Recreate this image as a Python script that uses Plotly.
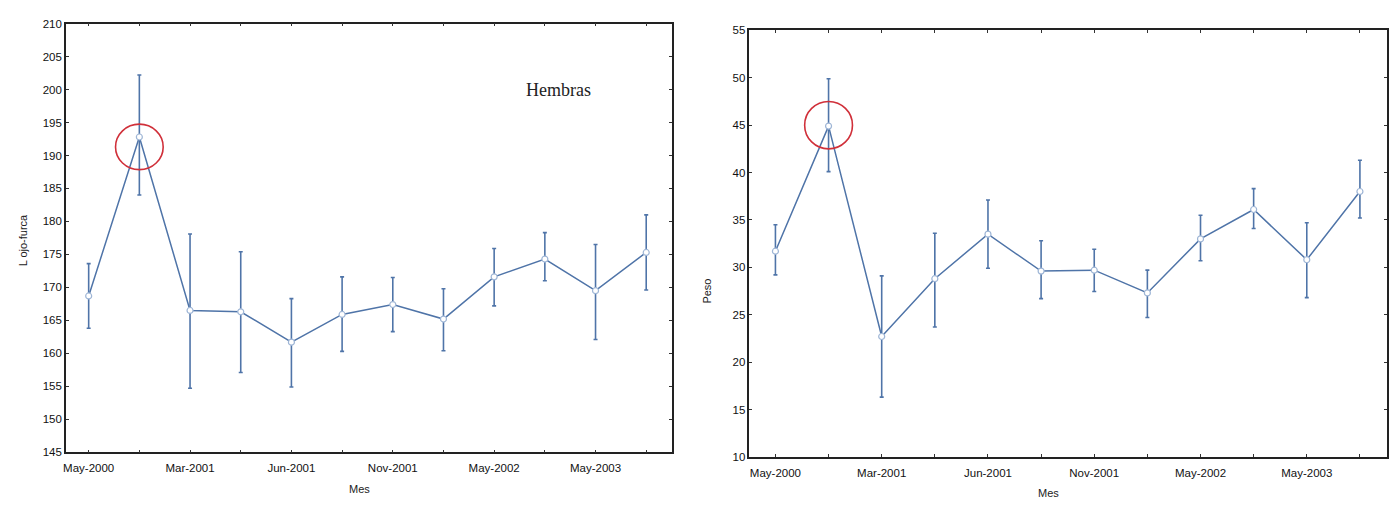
import plotly.graph_objects as go

# ---- data ----
categories = list(range(12))
tick_labels = ["May-2000", "", "Mar-2001", "", "Jun-2001", "", "Nov-2001", "",
               "May-2002", "", "May-2003", ""]

lf_mean = [168.7, 192.8, 166.5, 166.3, 161.7, 165.9, 167.4, 165.2, 171.6, 174.3, 169.5, 175.3]
lf_upper = [173.6, 202.2, 178.1, 175.4, 168.3, 171.6, 171.5, 169.8, 175.9, 178.3, 176.5, 181.0]
lf_lower = [163.8, 184.0, 154.7, 157.1, 154.9, 160.3, 163.3, 160.4, 167.2, 171.0, 162.1, 169.6]

peso_mean = [31.7, 44.9, 22.7, 28.8, 33.5, 29.6, 29.7, 27.3, 33.0, 36.1, 30.8, 38.0]
peso_upper = [34.5, 49.9, 29.1, 33.6, 37.1, 32.8, 31.9, 29.7, 35.5, 38.3, 34.7, 41.3]
peso_lower = [29.2, 40.1, 16.3, 23.7, 29.9, 26.7, 27.45, 24.7, 30.7, 34.1, 26.8, 35.2]

left_yticks = list(range(145, 211, 5))
right_yticks = list(range(10, 56, 5))

LINE = "#4f74a8"
W, H = 1394, 511

fig = go.Figure()

def add_series(mean, up, lo, xa, ya):
    fig.add_trace(go.Scatter(
        x=categories, y=mean, mode="lines+markers",
        line=dict(color=LINE, width=1.5),
        marker=dict(symbol="circle", size=6, color="white",
                    line=dict(color="#9fb6d6", width=1.2)),
        error_y=dict(type="data", symmetric=False,
                     array=[u - m for u, m in zip(up, mean)],
                     arrayminus=[m - l for m, l in zip(mean, lo)],
                     color=LINE, thickness=1.6, width=2),
        xaxis=xa, yaxis=ya, showlegend=False))

add_series(lf_mean, lf_upper, lf_lower, "x", "y")
add_series(peso_mean, peso_upper, peso_lower, "x2", "y2")

tickfont = dict(family="Liberation Sans, Arial", size=11.5, color="#111")
axis_common = dict(showgrid=False, zeroline=False, showline=True, linecolor="#222",
                   linewidth=1.5, mirror="ticks", ticks="inside", ticklen=3,
                   tickcolor="#333", tickfont=tickfont)

fig.update_layout(
    width=W, height=H, margin=dict(l=0, r=0, t=0, b=0),
    paper_bgcolor="white", plot_bgcolor="white",
    xaxis=dict(domain=[63 / W, 670 / W], range=[-0.45, 11.5], tickmode="array",
               tickvals=categories, ticktext=tick_labels, anchor="y",
               ticklabelstandoff=4, **axis_common),
    yaxis=dict(domain=[1 - 457 / H, 1 - 18 / H], range=[145, 210], tickmode="array",
               tickvals=left_yticks, anchor="x", **axis_common),
    xaxis2=dict(domain=[748 / W, 1387 / W], range=[-0.49, 11.51], tickmode="array",
                tickvals=categories, ticktext=tick_labels, anchor="y2",
                ticklabelstandoff=5, **axis_common),
    yaxis2=dict(domain=[1 - 461.7 / H, 1 - 25 / H], range=[10, 55], tickmode="array",
                tickvals=right_yticks, anchor="x2", **axis_common),
)

# red highlight circles
fig.add_shape(type="circle", xref="x", yref="y", x0=1 - 0.47, x1=1 + 0.47,
              y0=191.3 - 3.45, y1=191.3 + 3.45, line=dict(color="#d0303a", width=1.6))
fig.add_shape(type="circle", xref="x2", yref="y2", x0=1 - 0.45, x1=1 + 0.45,
              y0=45.0 - 2.5, y1=45.0 + 2.5, line=dict(color="#d0303a", width=1.6))

font = dict(family="Liberation Sans, Arial", size=11, color="#222")
fig.add_annotation(text="Hembras", xref="paper", yref="paper", x=557 / W, y=1 - 74 / H,
                   showarrow=False, font=dict(family="Liberation Serif, Times New Roman",
                                              size=18, color="#222"))
fig.add_annotation(text="Mes", xref="paper", yref="paper", x=345 / W, y=1 - 503 / H,
                   showarrow=False, font=font)
fig.add_annotation(text="Mes", xref="paper", yref="paper", x=1060 / W, y=1 - 507 / H,
                   showarrow=False, font=font)
fig.add_annotation(text="L ojo-furca", xref="paper", yref="paper", x=12 / W, y=1 - 240 / H,
                   showarrow=False, textangle=-90, font=font)
fig.add_annotation(text="Peso", xref="paper", yref="paper", x=706 / W, y=1 - 292 / H,
                   showarrow=False, textangle=-90, font=font)

fig.write_html("out.html")
